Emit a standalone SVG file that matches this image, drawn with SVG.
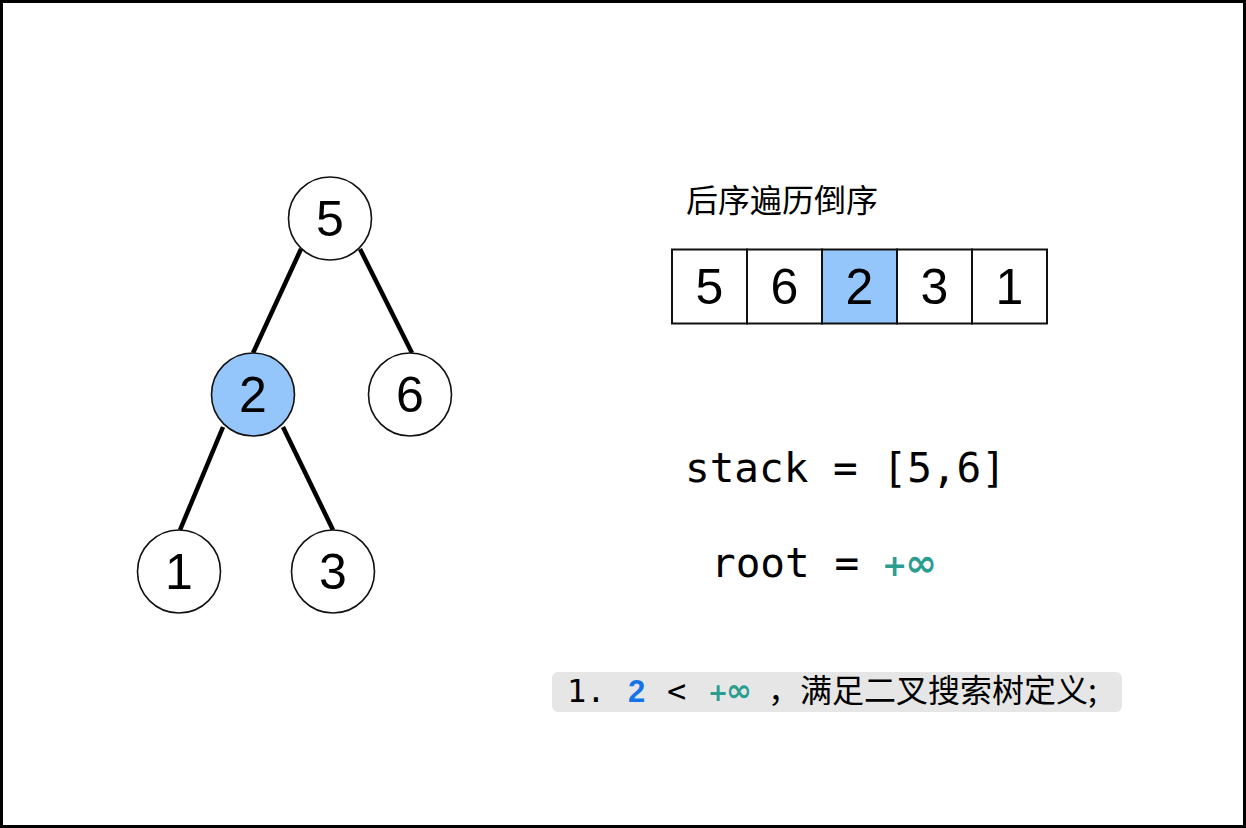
<svg xmlns="http://www.w3.org/2000/svg" width="1246" height="828" viewBox="0 0 1246 828">
<style>
.node circle{fill:#fff;stroke:#111;stroke-width:1.6}
.node.hl circle{fill:#94c6fb}
.num{font-family:"Liberation Sans","Noto Sans",sans-serif;font-size:50px;fill:#000;text-anchor:middle}
.edge{stroke:#000;stroke-width:4.5;fill:none}
.cell{fill:#fff;stroke:#111;stroke-width:2}
.cell.hl{fill:#94c6fb}
.cjk{font-family:"Noto Sans CJK SC",sans-serif;fill:#000}
.mono{font-family:"DejaVu Sans Mono","Liberation Mono",monospace;fill:#000}
.inf{font-family:"DejaVu Sans","Noto Sans",sans-serif;font-weight:bold;fill:#2a9d8f}
</style>
<rect x="1.5" y="1.5" width="1243" height="825" fill="#fff" stroke="#000" stroke-width="3"/>
<g id="connectors">
<line class="edge" x1="301" y1="249" x2="253" y2="353"/>
<line class="edge" x1="360" y1="249" x2="412" y2="353"/>
<line class="edge" x1="223" y1="427" x2="180" y2="530"/>
<line class="edge" x1="283" y1="427" x2="333" y2="530"/>
</g>
<g id="node-5" class="node"><circle cx="330" cy="218.5" r="41.5"/><text class="num" x="330" y="236">5</text></g>
<g id="node-2" class="node hl"><circle cx="253" cy="394.5" r="41.5"/><text class="num" x="253" y="412">2</text></g>
<g id="node-6" class="node"><circle cx="410" cy="394.5" r="41.5"/><text class="num" x="410" y="412">6</text></g>
<g id="node-1" class="node"><circle cx="179" cy="571.5" r="41.5"/><text class="num" x="179" y="589">1</text></g>
<g id="node-3" class="node"><circle cx="333" cy="571.5" r="41.5"/><text class="num" x="333" y="589">3</text></g>
<g id="title"><text class="cjk" x="686" y="212" font-size="32">后序遍历倒序</text></g>
<g id="array">
<rect class="cell" x="672" y="249.5" width="75" height="74"/>
<rect class="cell" x="747" y="249.5" width="75" height="74"/>
<rect class="cell hl" x="822" y="249.5" width="75" height="74"/>
<rect class="cell" x="897" y="249.5" width="75" height="74"/>
<rect class="cell" x="972" y="249.5" width="75" height="74"/>
<text class="num" x="709.5" y="304">5</text>
<text class="num" x="784.5" y="304">6</text>
<text class="num" x="859.5" y="304">2</text>
<text class="num" x="934.5" y="304">3</text>
<text class="num" x="1009.5" y="304">1</text>
</g>
<g id="stack"><text class="mono" x="685" y="482" font-size="41">stack = [5,6]</text></g>
<g id="root"><text class="mono" x="711" y="577" font-size="41">root = </text><text class="inf" x="882" y="576" font-size="30">+<tspan font-size="38" dx="-2">∞</tspan></text></g>
<g id="note">
<rect x="552" y="672" width="570" height="40" rx="6" fill="#e6e6e6"/>
<text class="mono" x="567" y="702" font-size="32">1.</text>
<text x="628" y="702" font-size="31" font-family="Liberation Sans,sans-serif" font-weight="bold" fill="#1473e6">2</text>
<text class="mono" x="667" y="702" font-size="32">&lt;</text>
<text class="inf" x="708" y="701" font-size="24">+<tspan font-size="31" dx="-2">∞</tspan></text>
<text class="cjk" x="768" y="702" font-size="32">，满足二叉搜索树定义;</text>
</g>
</svg>
